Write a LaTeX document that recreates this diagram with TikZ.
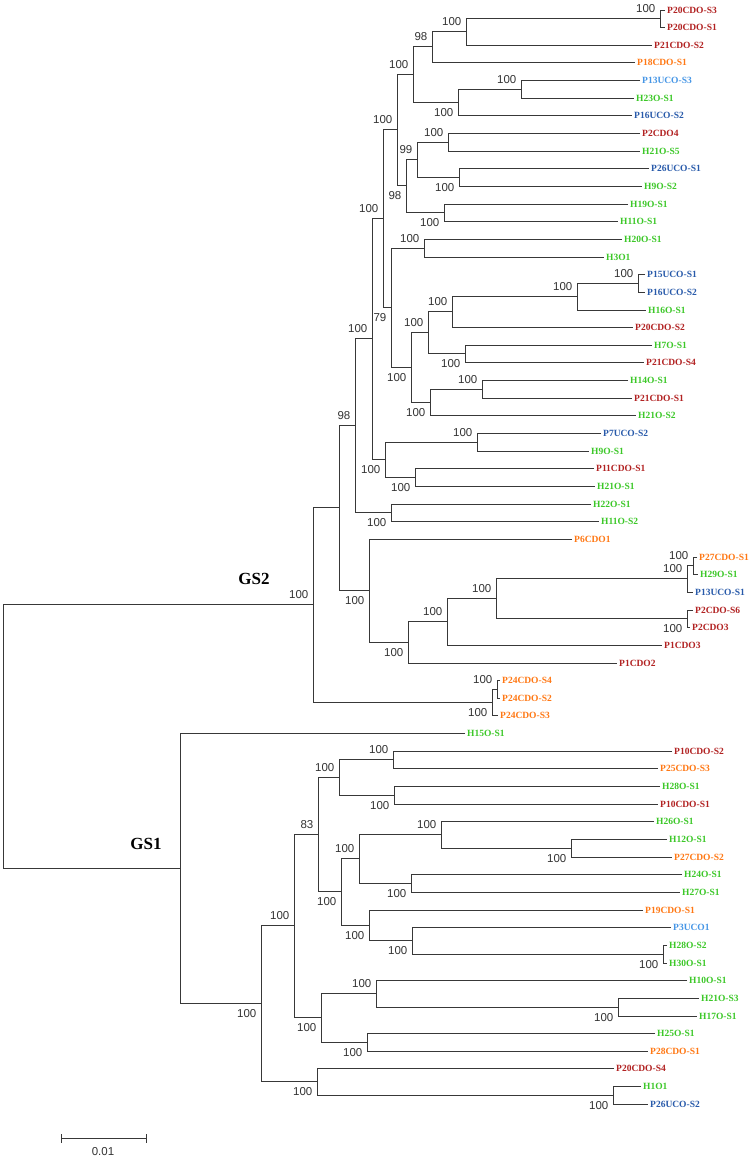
\documentclass[tikz,border=0pt]{standalone}
\usepackage{fontspec}
\setmainfont{Liberation Serif}
\newfontfamily\bsfont{Liberation Sans}
\usetikzlibrary{calc}
\definecolor{cred}{RGB}{178,34,34}
\definecolor{corg}{RGB}{255,120,20}
\definecolor{cgrn}{RGB}{60,200,40}
\definecolor{cblu}{RGB}{40,90,170}
\definecolor{clbl}{RGB}{70,150,230}
\tikzset{
  leaflab/.style={font=\bfseries\fontsize{9.5}{10}\selectfont, inner sep=0.5pt, anchor=west, xshift=1.5pt},
  bs/.style={font=\bsfont\fontsize{11.5}{12}\selectfont, text=black!80, inner sep=0.5pt},
  br/.style={draw=black!78, line width=1.1pt},
  gsl/.style={font=\bfseries\fontsize{17}{18}\selectfont, inner sep=0pt}
}
\newcommand\leafnode[5]{%
  \coordinate (#1) at (#3,{floor(10+(#2-1)*17.65)+0.5});
  \node[leaflab,text=#4] (#1t) at (#1) {#5};
}
\newcommand\innode[4]{%
  \path let \p1=($(#3)!0.5!(#4)$), \n1={floor(\y1/1pt)+0.5} in coordinate (#1) at (#2.5pt,\n1);
  \draw[br] (#3) -| (#1) |- (#4);
}
\newcommand\bsu[2]{\node[bs,anchor=south east] (#1b) at ([xshift=-4.5pt,yshift=5pt]#1) {#2};}
\newcommand\bsd[2]{\node[bs,anchor=north east] (#1b) at ([xshift=-4.5pt,yshift=-5pt]#1) {#2};}
\begin{document}
\begin{tikzpicture}[x=1pt,y=-1pt]
\fill[white] (0,0) rectangle (752,1158);
\useasboundingbox (0,0) rectangle (752,1158);
% leaves
\leafnode{L1}{1}{665}{cred}{P20CDO-S3}
\leafnode{L2}{2}{665}{cred}{P20CDO-S1}
\leafnode{L3}{3}{652}{cred}{P21CDO-S2}
\leafnode{L4}{4}{635}{corg}{P18CDO-S1}
\leafnode{L5}{5}{640}{clbl}{P13UCO-S3}
\leafnode{L6}{6}{634}{cgrn}{H23O-S1}
\leafnode{L7}{7}{632}{cblu}{P16UCO-S2}
\leafnode{L8}{8}{640}{cred}{P2CDO4}
\leafnode{L9}{9}{640}{cgrn}{H21O-S5}
\leafnode{L10}{10}{649}{cblu}{P26UCO-S1}
\leafnode{L11}{11}{642}{cgrn}{H9O-S2}
\leafnode{L12}{12}{628}{cgrn}{H19O-S1}
\leafnode{L13}{13}{618}{cgrn}{H11O-S1}
\leafnode{L14}{14}{622}{cgrn}{H20O-S1}
\leafnode{L15}{15}{604}{cgrn}{H3O1}
\leafnode{L16}{16}{645}{cblu}{P15UCO-S1}
\leafnode{L17}{17}{645}{cblu}{P16UCO-S2}
\leafnode{L18}{18}{646}{cgrn}{H16O-S1}
\leafnode{L19}{19}{633}{cred}{P20CDO-S2}
\leafnode{L20}{20}{652}{cgrn}{H7O-S1}
\leafnode{L21}{21}{644}{cred}{P21CDO-S4}
\leafnode{L22}{22}{628}{cgrn}{H14O-S1}
\leafnode{L23}{23}{632}{cred}{P21CDO-S1}
\leafnode{L24}{24}{636}{cgrn}{H21O-S2}
\leafnode{L25}{25}{601}{cblu}{P7UCO-S2}
\leafnode{L26}{26}{589}{cgrn}{H9O-S1}
\leafnode{L27}{27}{594}{cred}{P11CDO-S1}
\leafnode{L28}{28}{595}{cgrn}{H21O-S1}
\leafnode{L29}{29}{591}{cgrn}{H22O-S1}
\leafnode{L30}{30}{599}{cgrn}{H11O-S2}
\leafnode{L31}{31}{572}{corg}{P6CDO1}
\leafnode{L32}{32}{697}{corg}{P27CDO-S1}
\leafnode{L33}{33}{698}{cgrn}{H29O-S1}
\leafnode{L34}{34}{693}{cblu}{P13UCO-S1}
\leafnode{L35}{35}{693}{cred}{P2CDO-S6}
\leafnode{L36}{36}{690}{cred}{P2CDO3}
\leafnode{L37}{37}{662}{cred}{P1CDO3}
\leafnode{L38}{38}{617}{cred}{P1CDO2}
\leafnode{L39}{39}{500}{corg}{P24CDO-S4}
\leafnode{L40}{40}{500}{corg}{P24CDO-S2}
\leafnode{L41}{41}{498}{corg}{P24CDO-S3}
\leafnode{L42}{42}{465}{cgrn}{H15O-S1}
\leafnode{L43}{43}{672}{cred}{P10CDO-S2}
\leafnode{L44}{44}{658}{corg}{P25CDO-S3}
\leafnode{L45}{45}{660}{cgrn}{H28O-S1}
\leafnode{L46}{46}{658}{cred}{P10CDO-S1}
\leafnode{L47}{47}{654}{cgrn}{H26O-S1}
\leafnode{L48}{48}{667}{cgrn}{H12O-S1}
\leafnode{L49}{49}{672}{corg}{P27CDO-S2}
\leafnode{L50}{50}{682}{cgrn}{H24O-S1}
\leafnode{L51}{51}{680}{cgrn}{H27O-S1}
\leafnode{L52}{52}{643}{corg}{P19CDO-S1}
\leafnode{L53}{53}{671}{clbl}{P3UCO1}
\leafnode{L54}{54}{667}{cgrn}{H28O-S2}
\leafnode{L55}{55}{667}{cgrn}{H30O-S1}
\leafnode{L56}{56}{687}{cgrn}{H10O-S1}
\leafnode{L57}{57}{699}{cgrn}{H21O-S3}
\leafnode{L58}{58}{697}{cgrn}{H17O-S1}
\leafnode{L59}{59}{655}{cgrn}{H25O-S1}
\leafnode{L60}{60}{648}{corg}{P28CDO-S1}
\leafnode{L61}{61}{614}{cred}{P20CDO-S4}
\leafnode{L62}{62}{641}{cgrn}{H1O1}
\leafnode{L63}{63}{648}{cblu}{P26UCO-S2}
% GS2 clade
\innode{A}{660}{L1}{L2}\bsu{A}{100}
\innode{B}{466}{A}{L3}\bsu{B}{100}
\innode{C}{432}{B}{L4}\bsu{C}{98}
\innode{D}{521}{L5}{L6}\bsu{D}{100}
\innode{E}{458}{D}{L7}\bsd{E}{100}
\innode{F}{413}{C}{E}\bsu{F}{100}
\innode{J}{448}{L8}{L9}\bsu{J}{100}
\innode{K}{459}{L10}{L11}\bsd{K}{100}
\innode{I}{417}{J}{K}\bsu{I}{99}
\innode{L}{444}{L12}{L13}\bsd{L}{100}
\innode{H}{406}{I}{L}\bsd{H}{98}
\innode{G}{397}{F}{H}\bsu{G}{100}
\innode{M}{424}{L14}{L15}\bsu{M}{100}
\innode{V}{638}{L16}{L17}\bsu{V}{100}
\innode{U}{577}{V}{L18}\bsu{U}{100}
\innode{T}{452}{U}{L19}\bsu{T}{100}
\innode{W}{465}{L20}{L21}\bsd{W}{100}
\innode{S}{428}{T}{W}\bsu{S}{100}
\innode{Y}{482}{L22}{L23}\bsu{Y}{100}
\innode{X}{430}{Y}{L24}\bsd{X}{100}
\innode{R}{411}{S}{X}\bsd{R}{100}
\innode{N}{391}{M}{R}\bsd{N}{79}
\innode{O}{383}{G}{N}\bsu{O}{100}
\innode{Z}{477}{L25}{L26}\bsu{Z}{100}
\innode{AA}{415}{L27}{L28}\bsd{AA}{100}
\innode{Q}{385}{Z}{AA}\bsd{Q}{100}
\innode{P}{372}{O}{Q}\bsu{P}{100}
\innode{CC}{391}{L29}{L30}\bsd{CC}{100}
\innode{BB}{355}{P}{CC}\bsu{BB}{98}
\innode{JJ}{693}{L32}{L33}\bsu{JJ}{100}
\innode{II}{687}{JJ}{L34}\bsu{II}{100}
\innode{KK}{687}{L35}{L36}\bsd{KK}{100}
\innode{HH}{496}{II}{KK}\bsu{HH}{100}
\innode{GG}{447}{HH}{L37}\bsu{GG}{100}
\innode{FF}{408}{GG}{L38}\bsd{FF}{100}
\innode{EE}{369}{L31}{FF}\bsd{EE}{100}
\innode{DD}{339}{BB}{EE}
\innode{MM}{497}{L39}{L40}\bsu{MM}{100}
\innode{LL}{492}{MM}{L41}\bsd{LL}{100}
\innode{GS2}{313}{DD}{LL}\bsu{GS2}{100}
% GS1 clade
\innode{SS}{393}{L43}{L44}\bsu{SS}{100}
\innode{TT}{394}{L45}{L46}\bsd{TT}{100}
\innode{RR}{339}{SS}{TT}\bsu{RR}{100}
\innode{XX}{571}{L48}{L49}\bsd{XX}{100}
\innode{WW}{441}{L47}{XX}\bsu{WW}{100}
\innode{YY}{411}{L50}{L51}\bsd{YY}{100}
\innode{VV}{359}{WW}{YY}\bsu{VV}{100}
\innode{BBB}{663}{L54}{L55}\bsd{BBB}{100}
\innode{AAA}{412}{L53}{BBB}\bsd{AAA}{100}
\innode{ZZ}{369}{L52}{AAA}\bsd{ZZ}{100}
\innode{UU}{341}{VV}{ZZ}\bsd{UU}{100}
\innode{PP}{318}{RR}{UU}\bsu{PP}{83}
\innode{EEE}{618}{L57}{L58}\bsd{EEE}{100}
\innode{CCC}{376}{L56}{EEE}\bsu{CCC}{100}
\innode{DDD}{367}{L59}{L60}\bsd{DDD}{100}
\innode{QQ}{321}{CCC}{DDD}\bsd{QQ}{100}
\innode{OO}{294}{PP}{QQ}\bsu{OO}{100}
\innode{GGG}{613}{L62}{L63}\bsd{GGG}{100}
\innode{FFF}{317}{L61}{GGG}\bsd{FFF}{100}
\innode{NN}{261}{OO}{FFF}\bsd{NN}{100}
\innode{GS1}{180}{L42}{NN}
\innode{root}{3}{GS2}{GS1}
% group labels
\node[gsl] (gs2lab) at (254,579) {GS2};
\node[gsl] (gs1lab) at (146,844) {GS1};
% scale bar
\coordinate (sb1) at (61.5,1138.5);
\coordinate (sb2) at (146.5,1138.5);
\draw[br] (sb1) -- (sb2);
\draw[br] ([yshift=4.5pt]sb1) -- ([yshift=-4.5pt]sb1);
\draw[br] ([yshift=4.5pt]sb2) -- ([yshift=-4.5pt]sb2);
\node[bs] (sblab) at (103,1152) {0.01};
\end{tikzpicture}
\end{document}
